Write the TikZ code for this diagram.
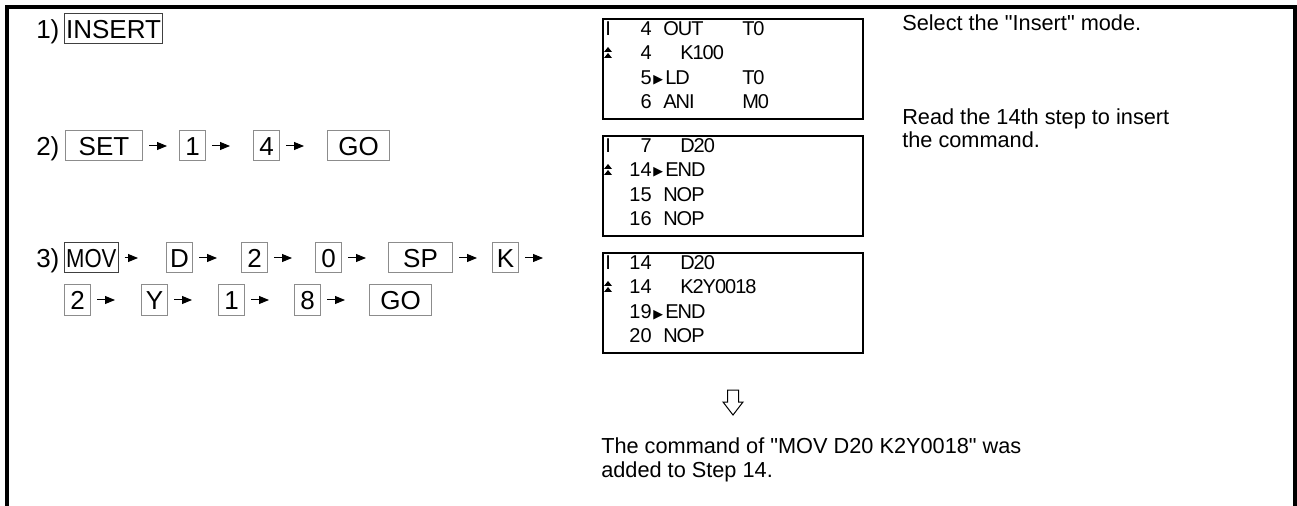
\documentclass[tikz,border=0pt]{standalone}
\usepackage{fontspec}
\newfontfamily\arialf{Liberation Sans}
\newfontfamily\condf[FakeStretch=0.85]{Liberation Sans}
\newfontfamily\lcdwf[LetterSpace=-5]{Liberation Sans}
\newfontfamily\symfont{DejaVu Sans}
\usetikzlibrary{arrows.meta}
\newcommand\keyfont{\arialf\fontsize{19.5pt}{22pt}\selectfont}
\newcommand\movfont{\condf\fontsize{19.5pt}{22pt}\selectfont}
\newcommand\lcdfont{\arialf\fontsize{15pt}{17pt}\selectfont}
\newcommand\lcdwfont{\lcdwf\fontsize{15pt}{17pt}\selectfont}
\newcommand\descfont{\arialf\fontsize{16.3pt}{17.5pt}\selectfont}
\tikzset{
  key/.style={draw=black!45, line width=0.75pt, font=\keyfont, text height=13.96pt, text depth=0pt,
    inner ysep=4.27pt, inner xsep=0pt, minimum width=19.5pt, anchor=west},
  fkey/.style={key, draw=black!75, inner xsep=1.2pt, minimum width=0pt},
  wkey/.style={key, minimum width=#1},
  karrow/.style={-{Triangle[length=7.5pt,width=6pt]}, line width=0.75pt, shorten <=4.5pt},
  lbl/.style={font=\keyfont, inner sep=0pt, anchor=base west},
  lcd/.style={draw, line width=1.5pt, minimum width=195pt, minimum height=75pt, anchor=north west, inner sep=0pt},
  lt/.style={font=\lcdfont, inner sep=0pt, anchor=base west},
  lw/.style={font=\lcdwfont, inner sep=0pt, anchor=base west},
  ln/.style={font=\lcdfont, inner sep=0pt, anchor=base east},
  tri/.style={font=\symfont\fontsize{9.5pt}{9.5pt}\selectfont, inner sep=0pt, anchor=base west},
  desc/.style={font=\descfont, inner sep=0pt, anchor=base west, align=left}
}
\begin{document}
\begin{tikzpicture}[x=0.75pt,y=-0.75pt]
\useasboundingbox (0,0) rectangle (1297,506);
% frame
\draw[line width=3pt] (7,506) -- (7,7) -- (1295,7) -- (1295,506);

% step 1
\node[lbl] (n1) at (36,38.3) {1)};
\node[fkey] (ins) at (64,29) {INSERT};

% step 2
\node[lbl] (n2) at (36,155.3) {2)};
\node[wkey=57.75pt] (set) at (65,146) {SET};
\node[key] (s1) at (179,146) {1};
\node[key] (s4) at (253,146) {4};
\node[wkey=46.5pt] (go1) at (327,146) {GO};
\draw[karrow, shorten >=9pt] (set) -- (s1);
\draw[karrow, shorten >=17.25pt] (s1) -- (s4);
\draw[karrow, shorten >=17.25pt] (s4) -- (go1);

% step 3
\node[lbl] (n3) at (36,267.3) {3)};
\node[fkey, font=\movfont] (mov) at (64,258) {MOV};
\node[key] (d) at (166,258) {D};
\node[key] (t2) at (241,258) {2};
\node[key] (t0) at (315,258) {0};
\node[wkey=48pt] (sp) at (388,258) {SP};
\node[key] (k) at (492,258) {K};
\coordinate (kend) at (543,258);
\draw[karrow, shorten >=21pt] (mov) -- (d);
\draw[karrow, shorten >=18pt] (d) -- (t2);
\draw[karrow, shorten >=17.25pt] (t2) -- (t0);
\draw[karrow, shorten >=16.5pt] (t0) -- (sp);
\draw[karrow, shorten >=11.25pt] (sp) -- (k);
\draw[karrow] (k.east) -- (kend);

\node[key] (u2) at (64,300) {2};
\node[key] (y) at (141,300) {Y};
\node[key] (u1) at (218,300) {1};
\node[key] (u8) at (294,300) {8};
\node[wkey=46.5pt] (go2) at (369,300) {GO};
\draw[karrow, shorten >=19.5pt] (u2) -- (y);
\draw[karrow, shorten >=19.5pt] (y) -- (u1);
\draw[karrow, shorten >=18.75pt] (u1) -- (u8);
\draw[karrow, shorten >=18pt] (u8) -- (go2);

% LCD 1
\node[lcd] (lcd1) at (602,18) {};
\node[lt] (a1) at (605,36) {I};
\node[ln] (a2) at (652,36) {4};
\node[lw] (a3) at (663,36) {OUT};
\node[lw] (a4) at (742,36) {T0};
\fill (604,52) -- (612,52) -- (608,47) -- cycle (604,58) -- (612,58) -- (608,53) -- cycle;
\node[ln] (a5) at (652,60) {4};
\node[lw] (a6) at (680,60) {K100};
\node[ln] (a7) at (652,85) {5};
\node[tri] (a8) at (653,84) {▶};
\node[lw] (a9) at (665,85) {LD};
\node[lw] (a10) at (742,85) {T0};
\node[ln] (a11) at (652,109) {6};
\node[lw] (a12) at (663,109) {ANI};
\node[lw] (a13) at (742,109) {M0};

% LCD 2
\node[lcd] (lcd2) at (602,135) {};
\node[lt] (b1) at (605,153) {I};
\node[ln] (b2) at (652,153) {7};
\node[lw] (b3) at (680,153) {D20};
\fill (604,169) -- (612,169) -- (608,164) -- cycle (604,175) -- (612,175) -- (608,170) -- cycle;
\node[ln] (b4) at (652,177) {14};
\node[tri] (b5) at (653,176) {▶};
\node[lw] (b6) at (665,177) {END};
\node[ln] (b7) at (652,202) {15};
\node[lw] (b8) at (663,202) {NOP};
\node[ln] (b9) at (652,226) {16};
\node[lw] (b10) at (663,226) {NOP};

% LCD 3
\node[lcd] (lcd3) at (602,252) {};
\node[lt] (c1) at (605,270) {I};
\node[ln] (c2) at (652,270) {14};
\node[lw] (c3) at (680,270) {D20};
\fill (604,286) -- (612,286) -- (608,281) -- cycle (604,292) -- (612,292) -- (608,287) -- cycle;
\node[ln] (c4) at (652,294) {14};
\node[lw] (c5) at (680,294) {K2Y0018};
\node[ln] (c6) at (652,319) {19};
\node[tri] (c7) at (653,318) {▶};
\node[lw] (c8) at (665,319) {END};
\node[ln] (c9) at (652,343) {20};
\node[lw] (c10) at (663,343) {NOP};

% descriptions
\node[desc] (d1) at (902,31) {Select the "Insert" mode.};
\node[desc] (d2) at (902,148) {Read the 14th step to insert\\the command.};

% down arrow
\draw[line width=0.75pt] (727.5,390) -- (738.5,390) -- (738.5,402) -- (743,402) -- (733,415) -- (723,402) -- (727.5,402) -- cycle;

\node[desc] (res) at (601,477) {The command of "MOV D20 K2Y0018" was\\added to Step 14.};
\end{tikzpicture}
\end{document}
